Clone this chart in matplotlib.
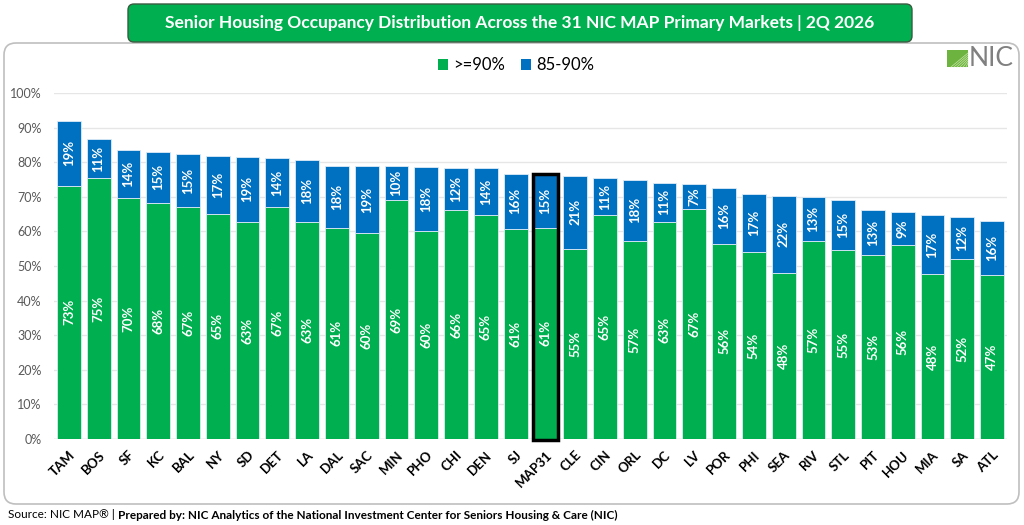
import numpy as np
import matplotlib.pyplot as plt
from matplotlib.patches import FancyBboxPatch, Rectangle, Patch

plt.rcParams['font.family'] = ['Lato', 'DejaVu Sans']

markets = ['TAM', 'BOS', 'SF', 'KC', 'BAL', 'NY', 'SD', 'DET', 'LA', 'DAL', 'SAC', 'MIN',
           'PHO', 'CHI', 'DEN', 'SJ', 'MAP31', 'CLE', 'CIN', 'ORL', 'DC', 'LV', 'POR', 'PHI',
           'SEA', 'RIV', 'STL', 'PIT', 'HOU', 'MIA', 'SA', 'ATL']
# share of properties with occupancy >= 90%
occ_90 = [73.2, 75.4, 69.6, 68.3, 67.0, 65.1, 62.7, 67.0, 62.8, 61.1, 59.6, 69.1,
          60.1, 66.2, 64.6, 60.7, 61.1, 55.0, 64.6, 57.3, 62.8, 66.6, 56.4, 54.0,
          48.1, 57.3, 54.6, 53.2, 56.1, 47.6, 52.0, 47.4]
# share with occupancy 85-90%
occ_85_90 = [18.7, 11.2, 13.9, 14.6, 15.3, 16.7, 18.9, 14.1, 17.8, 17.7, 19.2, 9.7,
             18.4, 12.2, 13.6, 16.0, 15.4, 21.1, 10.9, 17.6, 11.2, 7.1, 16.1, 16.8,
             22.1, 12.6, 14.6, 13.0, 9.4, 17.1, 12.2, 15.6]
highlight = 'MAP31'

green = '#00B050'
blue = '#0070C0'

fig = plt.figure(figsize=(10.24, 5.25), dpi=100)

# background layer in pixel coords for the boxes, logo and footer
bg = fig.add_axes([0, 0, 1, 1], zorder=0)
bg.set_xlim(0, 1024)
bg.set_ylim(525, 0)
bg.axis('off')

bg.add_patch(FancyBboxPatch((4, 43), 1015, 461, boxstyle='round,pad=0,rounding_size=12',
                            facecolor='white', edgecolor='#BFBFBF', linewidth=1.2))
bg.add_patch(FancyBboxPatch((128, 4), 784, 38, boxstyle='round,pad=0,rounding_size=6',
                            facecolor=green, edgecolor='#3A5A40', linewidth=1.0))
bg.text(520, 23, 'Senior Housing Occupancy Distribution Across the 31 NIC MAP Primary Markets | 2Q 2026',
        color='white', fontsize=12.5, fontweight='bold', ha='center', va='center')

# NIC logo
bg.add_patch(Rectangle((947, 50), 21, 17, facecolor='#6DB33F', edgecolor='none', zorder=3))
for k in range(6):
    bg.plot([951 + k * 3, 968], [67, 53 + k * 2], color='#C8E6A8', lw=0.5, zorder=4)
bg.text(969, 59, 'NIC', color='#808080', fontsize=19, ha='left', va='center')

t1 = bg.text(8, 515, 'Source: NIC MAP\u00ae | ', fontsize=8.5, ha='left', va='center', color='#000000')
fig.canvas.draw()
ext = t1.get_window_extent()
bg.text(8 + ext.width, 515,
        'Prepared by: NIC Analytics of the National Investment Center for Seniors Housing & Care (NIC)',
        fontsize=8.5, fontweight='bold', ha='left', va='center')

# main chart
ax = fig.add_axes([54 / 1024, 1 - 439 / 525, 953 / 1024, 346 / 525], zorder=1)
ax.patch.set_alpha(0)
x = np.arange(len(markets))
lo = np.array(occ_90)
hi = np.array(occ_85_90)
ax.bar(x, lo, width=0.8, color=green, edgecolor='#DDEBF7', linewidth=0.6, zorder=2)
ax.bar(x, hi, bottom=lo, width=0.8, color=blue, edgecolor='#DDEBF7', linewidth=0.6, zorder=2)

for i in range(len(markets)):
    ax.text(x[i], lo[i] / 2, f'{round(lo[i])}%', rotation=90, color='white', fontsize=9.5,
            fontweight='bold', ha='center', va='center', zorder=3)
    ax.text(x[i], lo[i] + hi[i] / 2, f'{round(hi[i])}%', rotation=90, color='white', fontsize=9.5,
            fontweight='bold', ha='center', va='center', zorder=3)

i = markets.index(highlight)
ax.add_patch(Rectangle((x[i] - 0.42, -0.4), 0.84, lo[i] + hi[i] + 0.4, fill=False, edgecolor='black',
                       linewidth=2.5, zorder=4, clip_on=False))

ax.set_xlim(-0.5, len(markets) - 0.5)
ax.set_ylim(0, 100)
ax.set_yticks(np.arange(0, 101, 10))
ax.set_yticklabels([f'{v}%' for v in range(0, 101, 10)], color='#595959', fontsize=9)
ax.set_xticks(x)
ax.set_xticklabels(markets, rotation=45, ha='right', rotation_mode='anchor', fontsize=9.5,
                   fontweight='bold')
ax.tick_params(length=0)
ax.tick_params(axis='y', pad=9)
ax.tick_params(axis='x', pad=7)
ax.grid(axis='y', color='#E6E6E6', linewidth=1, zorder=0)
for s in ax.spines.values():
    s.set_visible(False)
ax.axhline(0, color='#D9D9D9', linewidth=1, zorder=1)

handles = [Patch(facecolor=green, label='>=90%'), Patch(facecolor=blue, label='85-90%')]
fig.legend(handles=handles, loc='center', bbox_to_anchor=(0.504, 0.876), ncol=2, frameon=False,
           fontsize=12, handlelength=0.6, handleheight=0.6, handletextpad=0.3, columnspacing=1.0)

fig.savefig('out.png', dpi=100)
